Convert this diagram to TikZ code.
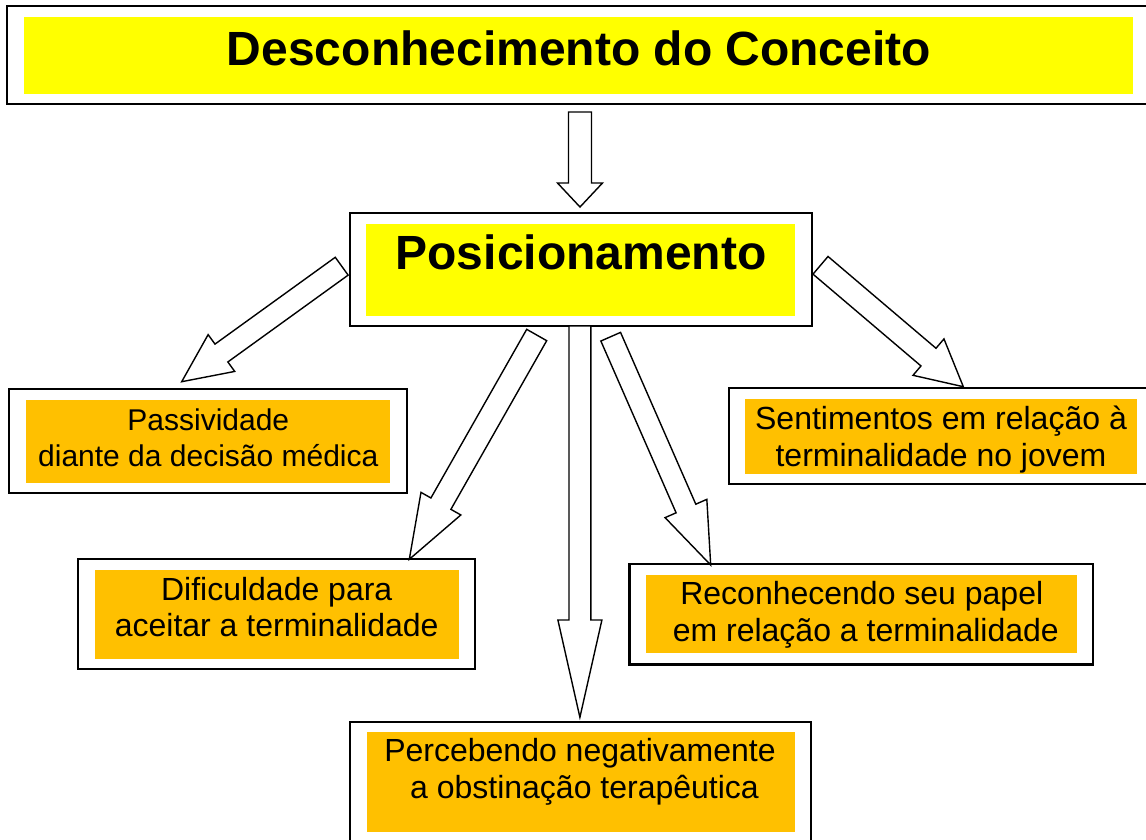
\documentclass[tikz,border=0pt]{standalone}
\usepackage{fontspec}
\setmainfont{Liberation Sans}
\usetikzlibrary{calc,fit}
\definecolor{ylw}{HTML}{FFFF00}
\definecolor{org}{HTML}{FFC000}
\tikzset{
  outerbox/.style={draw=black, line width=2.2pt, fill=white, inner sep=0pt},
  yfill/.style={fill=ylw, draw=none, inner sep=0pt},
  ofill/.style={fill=org, draw=none, inner sep=0pt},
  bigtxt/.style={anchor=base, inner sep=0pt, font=\bfseries\fontsize{48}{58}\selectfont},
  txt/.style={anchor=base, inner sep=0pt, font=\fontsize{32}{37}\selectfont},
  smalltxt/.style={anchor=base, inner sep=0pt, font=\fontsize{30}{37}\selectfont},
  blockarr/.style={draw=black, line width=1.4pt, fill=white, line join=miter},
}
% #1 tail, #2 tip, #3 shaft half width, #4 head half width, #5 head length
\newcommand\blockarrow[5]{%
  \coordinate (bah) at ($(#2)!#5!(#1)$);
  \draw[blockarr] ($(#1)!#3!90:(#2)$) -- ($(bah)!#3!90:(#2)$) -- ($(bah)!#4!90:(#2)$)
    -- (#2) -- ($(bah)!#4!-90:(#2)$) -- ($(bah)!#3!-90:(#2)$) -- ($(#1)!#3!-90:(#2)$) -- cycle;
}
\begin{document}
\begin{tikzpicture}[x=1pt, y=-1pt]
\useasboundingbox (0,0) rectangle (1146,839);
\clip (0,0) rectangle (1146,839);

% Title box
\node[outerbox, fit={(7.3,6) (1152,104)}] (top) {};
\node[yfill, fit={(24,17) (1133,94)}] (topfill) {};
\node[bigtxt] (ttop) at (579,65) {Desconhecimento do Conceito};

% Posicionamento
\node[outerbox, fit={(350,212.7) (811.7,326)}] (pos) {};
\node[yfill, fit={(366,224) (795,315.7)}] (posfill) {};
\node[bigtxt] (tpos) at (581,269) {Posicionamento};

% Passividade
\node[outerbox, fit={(9.3,389.3) (406.7,493.3)}] (pas) {};
\node[ofill, fit={(26,400) (390,482.7)}] (pasfill) {};
\node[smalltxt] (tpas1) at (208.3,430) {Passividade};
\node[smalltxt] (tpas2) at (208.3,466.5) {diante da decisão médica};

% Dificuldade
\node[outerbox, fit={(78.3,559.3) (475,669.3)}] (dif) {};
\node[ofill, fit={(95,570) (459,659.3)}] (diffill) {};
\node[txt] (tdif1) at (276.7,600) {Dificuldade para};
\node[txt] (tdif2) at (276.7,636.8) {aceitar a terminalidade};

% Percebendo
\node[outerbox, fit={(350,721.7) (811,852)}] (per) {};
\node[ofill, fit={(366.7,732.3) (795,832.3)}] (perfill) {};
\node[txt] (tper1) at (580,761.7) {Percebendo negativamente};
\node[txt] (tper2) at (584.5,798.3) {a obstinação terapêutica};

% Sentimentos
\node[outerbox, fit={(729,387.6) (1152,484)}] (sen) {};
\node[ofill, fit={(745,399.3) (1136.8,473.8)}] (senfill) {};
\node[txt] (tsen1) at (941,429.5) {Sentimentos em relação à};
\node[txt] (tsen2) at (941,466.4) {terminalidade no jovem};

% Reconhecendo
\node[outerbox, fit={(629.4,563.8) (1093,664.4)}] (rec) {};
\node[ofill, fit={(646,574.8) (1077,653.4)}] (recfill) {};
\node[txt] (trec1) at (861.8,604) {Reconhecendo seu papel};
\node[txt] (trec2) at (865.8,641) {em relação a terminalidade};

% Arrow end points
\coordinate (a1s) at (580,112);   \coordinate (a1e) at (580,207);
\coordinate (a2s) at (341.7,266.2); \coordinate (a2e) at (181.7,381.7);
\coordinate (a3s) at (536.7,335); \coordinate (a3e) at (409.3,559.3);
\coordinate (a4s) at (579.9,326); \coordinate (a4e) at (579.9,717.3);
\coordinate (a5s) at (610.7,336.7); \coordinate (a5e) at (710.7,565);
\coordinate (a6s) at (820.5,265.3); \coordinate (a6e) at (963.3,386.7);

\blockarrow{a1s}{a1e}{11.5pt}{22.5pt}{24pt}
\blockarrow{a2s}{a2e}{11pt}{22.7pt}{49pt}
\blockarrow{a3s}{a3e}{11.5pt}{22.9pt}{64pt}
\blockarrow{a4s}{a4e}{10.9pt}{22pt}{97.3pt}
\blockarrow{a5s}{a5e}{10.75pt}{22.8pt}{61.7pt}
\blockarrow{a6s}{a6e}{11.6pt}{23.9pt}{45.7pt}
\end{tikzpicture}
\end{document}
